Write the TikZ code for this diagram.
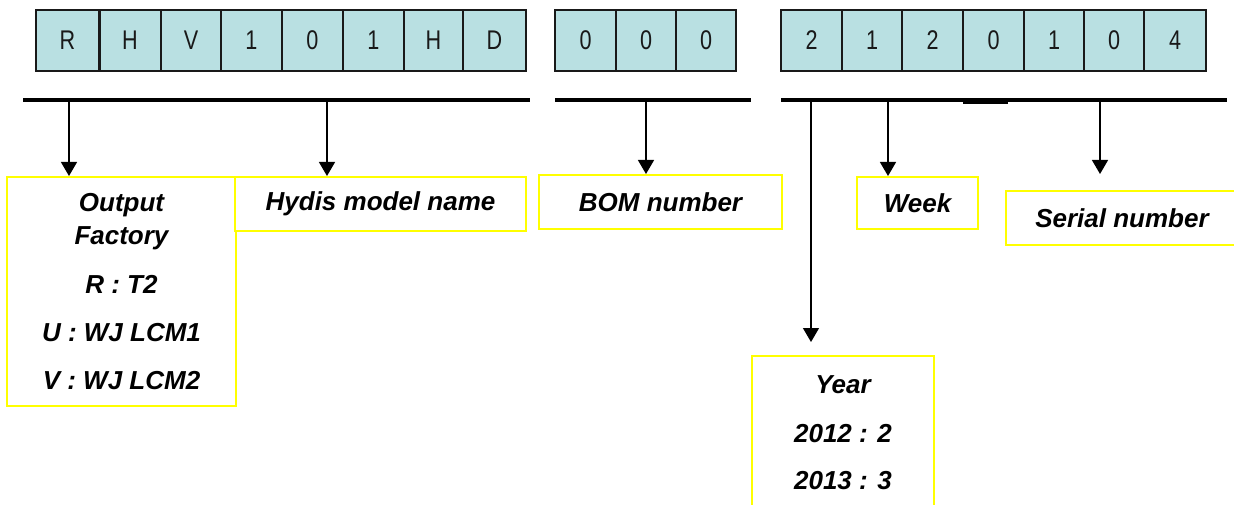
\documentclass[tikz,border=0pt]{standalone}
\usepackage{fontspec}
\setmainfont{Liberation Sans}
\newfontfamily\cellfont[FakeStretch=0.8]{Liberation Sans}
\usetikzlibrary{arrows.meta}
\definecolor{cellfill}{RGB}{185,224,226}
\definecolor{ybox}{RGB}{255,255,0}
\begin{document}
\begin{tikzpicture}[x=1pt,y=-1pt,
  cell/.style={draw=black!90, line width=1.1pt, fill=cellfill, minimum height=61pt, inner sep=0pt,
    font=\cellfont\fontsize{27}{30}\selectfont, text=black!90},
  bar/.style={line width=4pt},
  conn/.style={line width=1.3pt, -{Triangle[width=16pt,length=14pt]}},
  lbl/.style={draw=ybox, line width=2pt, fill=white, inner sep=0pt, align=center,
    font=\bfseries\itshape\fontsize{26}{33}\selectfont}
]
\useasboundingbox (0,0) rectangle (1234,505);

% cells
\foreach \l/\r/\t [count=\i, evaluate=\l as \w using {\r-\l}] in
  {36/99/R, 99/161/H, 161/221/V, 221/282/1, 282/343/0, 343/404/1, 404/463/H, 463/526/D}
  \node[cell, minimum width=\w pt] (ga\i) at ({(\l+\r)/2},40.5) {\t};
\draw[line width=2.5pt, black!90] (ga1.north east) -- (ga1.south east);
\foreach \l/\r/\t [count=\i, evaluate=\l as \w using {\r-\l}] in
  {555/616/0, 616/676/0, 676/736/0}
  \node[cell, minimum width=\w pt] (gb\i) at ({(\l+\r)/2},40.5) {\t};
\foreach \l/\r/\t [count=\i, evaluate=\l as \w using {\r-\l}] in
  {781/842/2, 842/902/1, 902/963/2, 963/1024/0, 1024/1084/1, 1084/1144/0, 1144/1206/4}
  \node[cell, minimum width=\w pt] (gc\i) at ({(\l+\r)/2},40.5) {\t};

% bars
\coordinate (b1l) at (23,100);  \coordinate (b1r) at (530,100);
\coordinate (b2l) at (555,100); \coordinate (b2r) at (751,100);
\coordinate (b3l) at (781,100); \coordinate (b3r) at (1227,100);
\draw[bar] (b1l) -- (b1r);
\draw[bar] (b2l) -- (b2r);
\draw[bar] (b3l) -- (b3r);
\fill (963,98) rectangle (1008,104);

% label boxes
\node[lbl, minimum width=229pt, minimum height=229pt] (out) at (121.5,291.5)
  {Output\\Factory\\[16pt]R : T2\\[15pt]U : WJ LCM1\\[15pt]V : WJ LCM2};
\node[lbl, minimum width=291pt, minimum height=54pt] (hyd) at (380.5,204) {Hydis model name};
\node[lbl, minimum width=243pt, minimum height=54pt] (bom) at (660.5,202) {BOM number};
\node[lbl, minimum width=121pt, minimum height=52pt] (week) at (917.5,203) {Week};
\node[lbl, minimum width=232pt, minimum height=54pt] (ser) at (1122,218) {Serial number};
\node[lbl, minimum width=182pt, minimum height=154pt] (year) at (843,433)
  {Year\\[16pt]2012 : 2\\[14pt]2013 : 3};

% connectors
\coordinate (s1) at (69,102);
\coordinate (s2) at (327,102);
\coordinate (s3) at (646,102);
\coordinate (s4) at (811,102);
\coordinate (s5) at (888,102);
\coordinate (s6) at (1100,102);
\draw[conn] (s1) -- (s1 |- out.north);
\draw[conn] (s2) -- (s2 |- hyd.north);
\draw[conn] (s3) -- (s3 |- bom.north);
\draw[conn, shorten >=13pt] (s4) -- (s4 |- year.north);
\draw[conn] (s5) -- (s5 |- week.north);
\draw[conn, shorten >=16pt] (s6) -- (s6 |- ser.north);
\end{tikzpicture}
\end{document}
